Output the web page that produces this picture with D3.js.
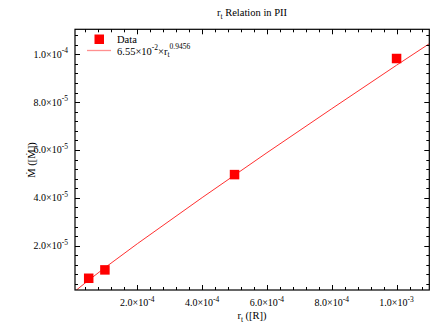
<!DOCTYPE html>
<html><head><meta charset="utf-8">
<script src="https://cdn.jsdelivr.net/npm/d3@7"></script>
<style>body{margin:0;background:#fff}svg{display:block}text{font-family:"Liberation Serif","DejaVu Serif",serif;fill:#000}</style>
</head><body><svg id="c" width="444" height="332"></svg>
<script>
// Data
const dataX = [5e-5, 1e-4, 5e-4, 1e-3];
const dataY = [6.4e-6, 9.9e-6, 4.97e-5, 9.82e-5];
// Fitted line
const fitX = [7.5e-6, 2e-5, 5e-5, 1e-4, 2e-4, 4e-4, 6e-4, 8e-4, 1e-3, 1.1e-3];
const fitY = [9.3e-7, 2.36e-6, 5.61e-6, 1.081e-5, 2.082e-5, 4.009e-5, 5.885e-5, 7.723e-5, 9.54e-5, 1.043e-4];
const xTicks = [2e-4, 4e-4, 6e-4, 8e-4, 1e-3];
const xTickLabels = [["2.0","-4"],["4.0","-4"],["6.0","-4"],["8.0","-4"],["1.0","-3"]];
const yTicks = [2e-5, 4e-5, 6e-5, 8e-5, 1e-4];
const yTickLabels = [["2.0","-5"],["4.0","-5"],["6.0","-5"],["8.0","-5"],["1.0","-4"]];

const svg = d3.select("#c");
const L = 75, R = 429.3, T = 29.3, B = 290;
const x = d3.scaleLinear().domain([7.7e-6, 1.101e-3]).range([L, R]);
const y = d3.scaleLinear().domain([1.5e-6, 1.104e-4]).range([B, T]);

svg.append("defs").append("clipPath").attr("id","clip")
  .append("rect").attr("x",L).attr("y",T).attr("width",R-L).attr("height",B-T);

// fit line
const line = d3.line().x(d=>x(d[0])).y(d=>y(d[1]));
svg.append("path").attr("clip-path","url(#clip)")
  .datum(fitX.map((v,i)=>[v,fitY[i]]))
  .attr("d", line).attr("fill","none").attr("stroke","#ff3030").attr("stroke-width",1);

// markers
const ms = 9.5;
svg.append("g").selectAll("rect").data(dataX.map((v,i)=>[v,dataY[i]])).join("rect")
  .attr("x",d=>x(d[0])-ms/2).attr("y",d=>y(d[1])-ms/2).attr("width",ms).attr("height",ms)
  .attr("fill","#ff0000");

// ticks (inward, all four sides)
const minorX = d3.range(4e-5, 1.1e-3, 4e-5).filter(v=>!xTicks.some(t=>Math.abs(t-v)<1e-9));
const minorY = d3.range(4e-6, 1.104e-4, 4e-6).filter(v=>!yTicks.some(t=>Math.abs(t-v)<1e-10));
const tg = svg.append("g").attr("stroke","#000").attr("stroke-width",1);
function xt(vals, len){
  vals.forEach(v=>{
    const px = Math.round(x(v))+0.5;
    tg.append("line").attr("x1",px).attr("x2",px).attr("y1",B).attr("y2",B-len);
    tg.append("line").attr("x1",px).attr("x2",px).attr("y1",T).attr("y2",T+len);
  });
}
function yt(vals, len){
  vals.forEach(v=>{
    const py = Math.round(y(v))+0.5;
    tg.append("line").attr("y1",py).attr("y2",py).attr("x1",L).attr("x2",L+len);
    tg.append("line").attr("y1",py).attr("y2",py).attr("x1",R).attr("x2",R-len);
  });
}
xt(xTicks,5); xt(minorX,3); yt(yTicks,5); yt(minorY,3);

// frame
svg.append("rect").attr("x",L).attr("y",T).attr("width",R-L).attr("height",B-T)
  .attr("fill","none").attr("stroke","#000").attr("stroke-width",1.2);

// tick labels
function sciLabel(g, m, e){
  g.append("tspan").text(m+"\u00d710");
  g.append("tspan").attr("dy",-4.5).attr("font-size",7.5).text(e);
}
xTicks.forEach((v,i)=>{
  const t = svg.append("text").attr("x",x(v)).attr("y",306).attr("font-size",10).attr("text-anchor","middle");
  sciLabel(t, xTickLabels[i][0], xTickLabels[i][1]);
});
yTicks.forEach((v,i)=>{
  const t = svg.append("text").attr("x",68).attr("y",y(v)+3.5).attr("font-size",10).attr("text-anchor","end");
  sciLabel(t, yTickLabels[i][0], yTickLabels[i][1]);
});

// title
const title = svg.append("text").attr("x",252).attr("y",16).attr("font-size",10.5).attr("text-anchor","middle");
title.append("tspan").text("r");
title.append("tspan").attr("dy",2.5).attr("font-size",7.5).text("t");
title.append("tspan").attr("dy",-2.5).text(" Relation in PII");

// x label
const xl = svg.append("text").attr("x",252).attr("y",319).attr("font-size",10.5).attr("text-anchor","middle");
xl.append("tspan").text("r");
xl.append("tspan").attr("dy",2.5).attr("font-size",7.5).text("t");
xl.append("tspan").attr("dy",-2.5).text(" ([R])");

// y label
svg.append("text").attr("transform","translate(35,160) rotate(-90)").attr("font-size",10.5)
  .attr("text-anchor","middle").text("\u1E40 ([\u1E40])");

// legend
svg.append("rect").attr("x",94.5).attr("y",34.5).attr("width",9.5).attr("height",9.5).attr("fill","#ff0000");
svg.append("text").attr("x",117).attr("y",42.5).attr("font-size",10.5).text("Data");
svg.append("line").attr("x1",87).attr("x2",111).attr("y1",50.5).attr("y2",50.5)
  .attr("stroke","#ff9090").attr("stroke-width",1.3);
const lt = svg.append("text").attr("x",117).attr("y",54.5).attr("font-size",10.5);
lt.append("tspan").text("6.55\u00d710");
lt.append("tspan").attr("dy",-4.5).attr("font-size",7.5).text("-2");
lt.append("tspan").attr("dy",4.5).text("\u00d7r");
lt.append("tspan").attr("dy",2.5).attr("font-size",7.5).text("t");
lt.append("tspan").attr("dy",-8).attr("font-size",7.5).text("0.9456");
</script></body></html>
